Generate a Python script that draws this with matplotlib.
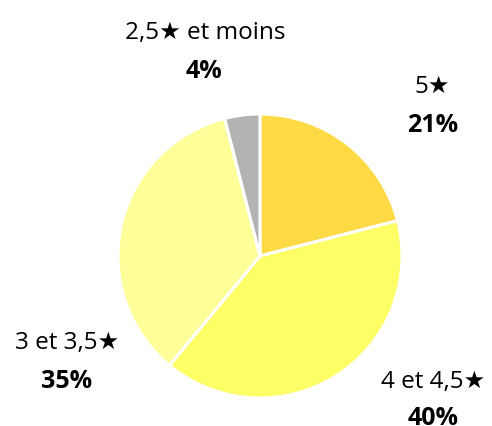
import matplotlib.pyplot as plt

# Data
categories = ['5★', '4 et 4,5★', '3 et 3,5★', '2,5★ et moins']
shares = [21, 40, 35, 4]
colors = ['#FFDA44', '#FFFF66', '#FFFF99', '#B3B3B3']

# label baseline positions (pie radius = 1): name line, then percentage line
name_pos = [(1.211, 1.155), (1.218, -0.923), (-1.359, -0.648), (-0.387, 1.535)]
pct_pos = [(1.218, 0.880), (1.218, -1.183), (-1.359, -0.923), (-0.394, 1.261)]

plt.rcParams['font.family'] = ['Open Sans', 'DejaVu Sans']

fig = plt.figure(figsize=(4.92, 4.27), dpi=100)
ax = fig.add_axes([0, 0, 1, 1])

ax.pie(shares, colors=colors, startangle=90, counterclock=False,
       radius=1, wedgeprops=dict(edgecolor='white', linewidth=2.2))

for cat, val, (x, y), (px, py) in zip(categories, shares, name_pos, pct_pos):
    ax.text(x, y, cat, ha='center', va='baseline', fontsize=17.5)
    ax.text(px, py, f'{val}%', ha='center', va='baseline',
            fontsize=18, fontweight='bold')

ax.set_xlim(-260 / 142, 232 / 142)
ax.set_ylim(-170 / 142, 257 / 142)
ax.set_aspect('auto')
ax.axis('off')

fig.savefig('out.png', dpi=100)
